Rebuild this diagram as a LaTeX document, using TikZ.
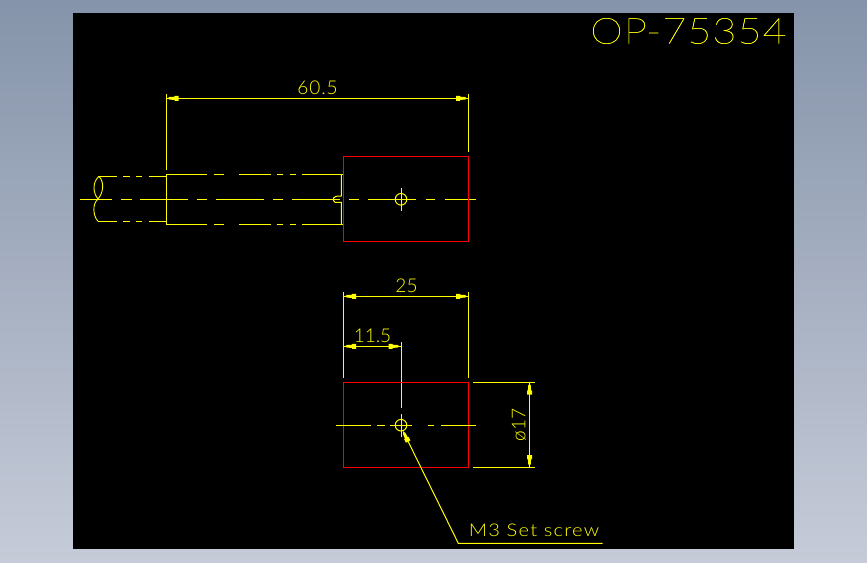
\documentclass[tikz,border=0pt]{standalone}
\usepackage{fontspec}
\setmainfont{Liberation Sans}
\newfontfamily\cad{Lato Light}
\newfontfamily\cadwide[FakeStretch=1.15,LetterSpace=7]{Lato Light}
\newfontfamily\cadtitle[FakeStretch=1.15,LetterSpace=3,FakeBold=0.6]{Lato Thin}
\definecolor{cadyellow}{RGB}{255,255,0}
\definecolor{cadred}{RGB}{255,0,0}
\definecolor{bgtop}{RGB}{133,148,170}
\definecolor{bgbot}{RGB}{198,203,216}
\tikzset{
  cadline/.style={draw=cadyellow,line width=1pt},
  redline/.style={draw=cadred,line width=1pt},
  cadtext/.style={text=cadyellow,inner sep=0pt,font=\cad},
}
% arrowhead: tip at (#1,#2), pointing to direction #3
\newcommand{\cadhead}[3]{%
  \fill[cadyellow,shift={(#1,#2)},rotate=#3] (0,0) -- (-2,-1.3) -- (-7,-1.6) -- (-7,-2.5) -- (-11,-2.5) -- (-11,2.5) -- (-7,2.5) -- (-7,1.6) -- (-2,1.3) -- cycle;}
\begin{document}
\begin{tikzpicture}[x=1pt,y=-1pt]
\useasboundingbox (0,0) rectangle (867,562);
\shade[top color=bgtop,bottom color=bgbot,shading angle=0] (0,0) rectangle (867,562);
\fill[black] (73,13) rectangle (794,549);

% title
\node[cadtext,font=\cadtitle\fontsize{36}{36}\selectfont] (title) at (688.5,31) {OP-75354};

% upper view: dimension
\draw[cadline] (166.3,94) -- (166.3,170);
\draw[cadline] (468.3,94) -- (468.3,152);
\draw[cadline] (166.3,98.3) -- (468.3,98.3);
\cadhead{167.5}{98.3}{180}
\cadhead{467}{98.3}{0}
\node[cadtext,font=\cad\fontsize{19}{19}\selectfont\addfontfeature{LetterSpace=5}] (d605) at (317.5,87.5) {60.5};

% upper view: shaft
\draw[cadline] (343,174.5) -- (302,174.5) (296,174.5) -- (290,174.5) (283,174.5) -- (276.7,174.5) (271,174.5) -- (239,174.5) (224,174.5) -- (214,174.5) (206.7,174.5) -- (166.3,174.5) -- (166.3,224.3) -- (206.7,224.3) (214,224.3) -- (224,224.3) (239,224.3) -- (271,224.3) (276.7,224.3) -- (283,224.3) (290,224.3) -- (296,224.3) (302,224.3) -- (343,224.3);
\draw[cadline] (341.3,174.5) -- (341.3,196) -- (336,196.3) -- (333.5,198) -- (333.5,200.5) -- (335,202.3) -- (341.3,202.3) -- (341.3,224.3);
% shaft stub
\draw[cadline] (98.3,176.3) -- (117,176.3) (123,176.3) -- (130,176.3) (136,176.3) -- (142,176.3) (149,176.3) -- (166.3,176.3);
\draw[cadline] (98.3,221.3) -- (117,221.3) (123,221.3) -- (130,221.3) (136,221.3) -- (142,221.3) (149,221.3) -- (166.3,221.3);
% break lines
\draw[cadline,line width=0.9pt] (99,176.3) .. controls (92.5,182) and (92.5,192) .. (98,199) .. controls (103,193) and (105,183) .. (99,176.3);
\draw[cadline,line width=0.9pt] (98,199) .. controls (92,204) and (93,216) .. (98,221.3);

% upper view: centre line
\draw[cadline] (80,199.3) -- (111.7,199.3) (121,199.3) -- (131.7,199.3) (140,199.3) -- (188,199.3) (197,199.3) -- (207,199.3) (216,199.3) -- (264,199.3) (273,199.3) -- (283,199.3) (292,199.3) -- (340,199.3) (349,199.3) -- (359,199.3) (368,199.3) -- (416,199.3) (426,199.3) -- (435,199.3) (445,199.3) -- (476,199.3);
\draw[redline] (343.5,156.5) rectangle (468.5,241.5);
\draw[cadline] (401,199.3) circle (5.8);
\draw[cadline] (401,188) -- (401,210.7);

% lower view: dimensions
\draw[cadline] (343.5,292) -- (343.5,377.7);
\draw[cadline] (468.3,292) -- (468.3,377.7);
\draw[cadline] (343.5,296.3) -- (468.3,296.3);
\cadhead{345}{296.3}{180}
\cadhead{467}{296.3}{0}
\node[cadtext,font=\cad\fontsize{19}{19}\selectfont] (d25) at (406.5,285.7) {25};
\draw[cadline] (343.5,346.3) -- (401,346.3);
\cadhead{345}{346.3}{180}
\cadhead{399.5}{346.3}{0}
\draw[cadline] (401,342) -- (401,408);
\node[cadtext,font=\cad\fontsize{19}{19}\selectfont] (d115) at (372.5,335.5) {11.5};

% lower view: body
\draw[redline] (343.5,382.3) rectangle (468.5,467.3);
\draw[cadline] (336,425.2) -- (371,425.2) (377,425.2) -- (385,425.2) (390,425.2) -- (412,425.2) (428,425.2) -- (434,425.2) (441,425.2) -- (476,425.2);
\draw[cadline] (401,425.2) circle (5.8);
\draw[cadline] (401,414) -- (401,436.7);

% diameter dimension
\draw[cadline] (473,382.3) -- (535,382.3);
\draw[cadline] (473,467.3) -- (535,467.3);
\draw[cadline] (529.5,382.3) -- (529.5,467.3);
\cadhead{529.5}{383.5}{90}
\cadhead{529.5}{466}{-90}
\node[cadtext,font=\cad\fontsize{19}{19}\selectfont,rotate=90] (d17) at (519,425) {ø17};

% leader
\draw[cadline] (403.3,431.7) -- (458.3,543.3) -- (602.7,543.3);
\cadhead{403.3}{431.7}{116.2}
\node[cadtext,font=\cadwide\fontsize{17.5}{17.5}\selectfont] (m3) at (534,530.3) {M3 Set screw};
\end{tikzpicture}
\end{document}
